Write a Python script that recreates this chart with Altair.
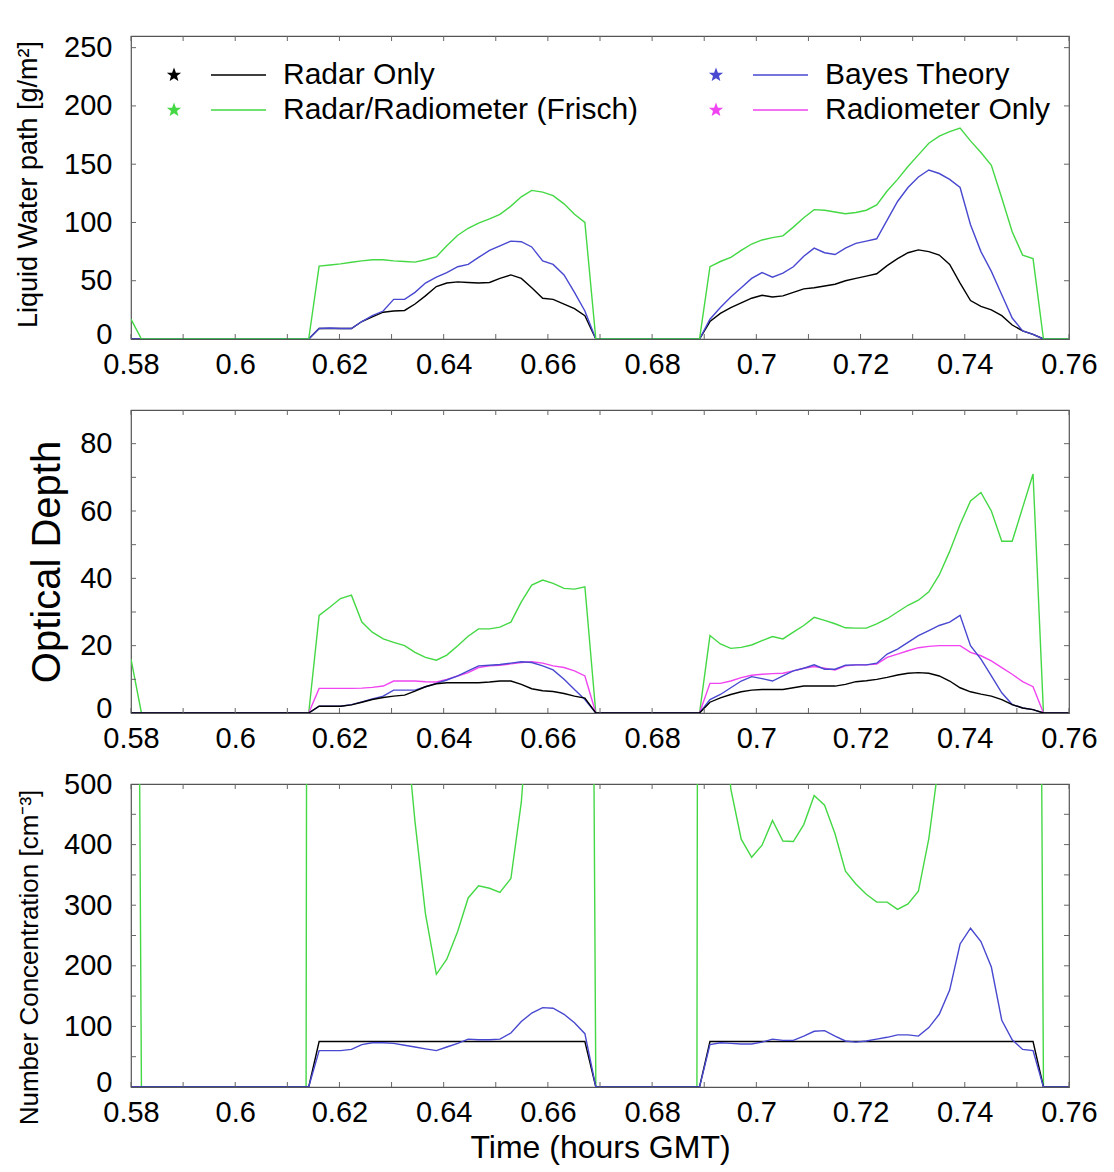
import math
import altair as alt
import pandas as pd

FONT = "Liberation Sans"
# legend is filled column by column: col 1 = Radar Only, Frisch; col 2 = Bayes, Radiometer
SERIES = ["Radar Only", "Radar/Radiometer (Frisch)", "Bayes Theory", "Radiometer Only"]
COLORS = ["#000000", "#44d844", "#4848d0", "#f044f0"]

# sample times (hours GMT)
T_LEAD = [0.5800, 0.5820, 0.6136]
T_SEG1 = [0.6141, 0.6161, 0.6182, 0.6202, 0.6223, 0.6243, 0.6263, 0.6284, 0.6304, 0.6325,
          0.6345, 0.6365, 0.6386, 0.6406, 0.6427, 0.6447, 0.6467, 0.6488, 0.6508, 0.6529,
          0.6549, 0.6569, 0.6590, 0.6610, 0.6631, 0.6651, 0.6671, 0.6692]
T_MID = [0.6886]
T_SEG2 = [0.6891, 0.6911, 0.6931, 0.6951, 0.6971, 0.6991, 0.7011, 0.7031, 0.7051, 0.7071,
          0.7091, 0.7111, 0.7131, 0.7151, 0.7171, 0.7191, 0.7211, 0.7231, 0.7251, 0.7271,
          0.7291, 0.7311, 0.7331, 0.7351, 0.7371, 0.7391, 0.7411, 0.7431, 0.7451, 0.7471,
          0.7491, 0.7511, 0.7531, 0.7551]
T_TAIL = [0.7600]

# ---- Liquid water path [g/m2]
LWP_RADAR_1 = [0, 9, 9, 9, 9, 15, 19, 23, 24, 24.5, 30, 37, 45, 48, 49, 48.5, 48, 48.5, 52, 55,
               52, 44, 35, 34, 30, 26, 20, 0]
LWP_BAYES_1 = [0, 9, 9.5, 9, 9, 15, 20, 24, 34, 34, 40, 48, 53, 57, 62, 64, 70, 76, 80, 84,
               83.5, 79, 67, 64, 55, 40, 24, 0]
LWP_FRISCH_1 = [0, 62.5, 63.5, 64.5, 65.8, 67, 68, 68, 67, 66.5, 66, 68, 70.6, 80, 89, 95, 99.5,
                103, 107, 114, 122, 127.5, 126, 123, 116, 107, 100, 0]
LWP_RADAR_2 = [0, 15, 22, 27, 31, 35, 37.5, 36, 37, 40, 43, 44, 45.5, 47, 50, 52, 54, 56, 63, 69,
               74, 76.5, 75, 72, 64, 48, 33, 28, 25, 20, 12, 7, 4, 0]
LWP_BAYES_2 = [0, 17, 27, 36, 44, 52, 57, 53, 56.5, 62, 71, 78, 74, 72.5, 78, 82, 84, 86, 102, 118,
               130, 139, 145, 142, 137, 130, 98, 75, 58, 38, 18, 7, 4, 0]
LWP_FRISCH_2 = [0, 62, 66.5, 70, 76, 81.5, 85, 87, 88.5, 96, 104, 111, 110.5, 109, 107.5, 108.5,
                110.5, 115, 127, 137, 148, 158, 168, 174, 178, 181, 170, 160, 149, 121, 92, 72, 69, 0]
LWP_FRISCH_LEAD = [17, 0, 0]

# ---- Optical depth
TAU_RADAR_1 = [0, 2, 2, 2, 2.4, 3.2, 4, 4.6, 5, 5.3, 6.5, 7.8, 8.7, 9, 9, 9, 9, 9.2, 9.5, 9.5,
               8.5, 7.2, 6.6, 6.4, 5.8, 5, 4.4, 0]
TAU_BAYES_1 = [0, 2, 2, 2, 2.5, 3.3, 4.2, 5, 6.8, 6.8, 6.8, 7.8, 8.8, 9.8, 11, 12.5, 14, 14.2, 14.4,
               14.8, 15.2, 15, 14, 12.8, 10, 7, 4, 0]
TAU_FRISCH_1 = [0, 29, 31.5, 34, 35, 27, 24, 22, 21, 20, 18, 16.5, 15.7, 17.2, 20, 22.8, 25, 25,
                25.5, 27, 33, 38, 39.5, 38.5, 37, 36.8, 37.5, 0]
TAU_RADIOM_1 = [0, 7.3, 7.3, 7.3, 7.3, 7.4, 7.6, 8, 9.5, 9.5, 9.5, 9.3, 9.2, 10, 11, 12, 13.5, 14,
                14.2, 14.6, 15, 15.2, 14.8, 14, 13.5, 12.5, 11, 0]
TAU_RADAR_2 = [0, 3.2, 4.5, 5.5, 6.3, 6.8, 7, 7, 7, 7.5, 8, 8, 8, 8, 8.5, 9.3, 9.6, 10, 10.6, 11.3,
               11.8, 12, 11.8, 11, 9.5, 7.5, 6.3, 5.6, 5, 4, 2.5, 1.5, 1, 0]
TAU_BAYES_2 = [0, 4, 5.5, 7.5, 9.5, 10.8, 10.2, 9.5, 11, 12.5, 13.3, 14.3, 13, 13, 14.2, 14.3, 14.3,
               14.8, 17.5, 19, 21, 23, 24.5, 26, 27, 29, 20, 16, 11, 6, 2.5, 1.5, 1, 0]
TAU_FRISCH_2 = [0, 23, 20.5, 19.2, 19.5, 20.2, 21.5, 22.7, 22, 24, 26, 28.4, 27.5, 26.5, 25.3, 25.2,
                25.2, 26.5, 28, 30, 32, 33.5, 36, 41, 48, 56, 63, 65.5, 60, 51, 51, 61, 71, 0]
TAU_RADIOM_2 = [0, 8.8, 8.8, 9.5, 10.5, 11.2, 11.5, 11.7, 11.8, 12.5, 13.3, 13.8, 13.3, 12.8, 14,
                14.3, 14.3, 14.5, 16.5, 17.5, 18.5, 19.4, 19.8, 20, 20, 20, 18, 17, 15.5, 13.5,
                11.5, 9.3, 7.8, 0]
TAU_FRISCH_LEAD = [16, 0, 0]

# ---- Number concentration [cm-3] (values above 500 run off the top)
NC_RADAR_1 = [0, 75, 75, 75, 75, 75, 75, 75, 75, 75, 75, 75, 75, 75, 75, 75, 75, 75, 75, 75,
              75, 75, 75, 75, 75, 75, 75, 0]
NC_BAYES_1 = [0, 60, 60, 60, 62, 70, 73, 73, 72, 69, 66, 63, 60, 66, 72, 79, 78, 78, 79, 89,
              108, 122, 131, 130, 120, 106, 88, 0]
NC_FRISCH_1 = [3000, 3000, 3000, 3000, 3000, 3000, 3000, 3000, 3000, 620, 438, 286, 186, 211,
               257, 312, 332, 328, 321, 344, 470, 700, 3000, 3000, 3000, 3000, 3000, 0]
NC_RADAR_2 = [0, 75, 75, 75, 75, 75, 75, 75, 75, 75, 75, 75, 75, 75, 75, 75, 75, 75, 75, 75,
              75, 75, 75, 75, 75, 75, 75, 75, 75, 75, 75, 75, 75, 0]
NC_BAYES_2 = [0, 70, 73, 72, 71, 71, 74, 79, 77, 77, 84, 92, 93, 84, 76, 74, 76, 79, 82, 86, 86,
              84, 98, 120, 160, 236, 262, 240, 198, 110, 78, 62, 60, 0]
NC_FRISCH_2 = [3000, 3000, 700, 492, 409, 379, 399, 440, 406, 405, 433, 481, 465, 418, 356, 335,
               318, 305, 305, 293, 302, 323, 410, 540, 3000, 3000, 3000, 3000, 3000, 3000, 3000,
               3000, 3000, 0]
NC_FRISCH_LEAD = [3000, 0, 0]

X_TICK_MARKS = [0.58, 0.59, 0.60, 0.61, 0.62, 0.63, 0.64, 0.65, 0.66, 0.67, 0.68, 0.69, 0.70,
                0.71, 0.72, 0.73, 0.74, 0.75, 0.76]
X_LABELS = [0.58, 0.60, 0.62, 0.64, 0.66, 0.68, 0.70, 0.72, 0.74, 0.76]
LWP_TICKS = [0, 50, 100, 150, 200, 250]
TAU_TICKS = [0, 20, 40, 60, 80]
TAU_MARKS = [10, 20, 30, 40, 50, 60, 70, 80]
NC_TICKS = [0, 100, 200, 300, 400, 500]
NC_MARKS = [50, 100, 150, 200, 250, 300, 350, 400, 450]

W, H = 938, 303
TIMES = T_LEAD + T_SEG1 + T_MID + T_SEG2 + T_TAIL


def full(seg1, seg2, lead=(0, 0, 0)):
    return list(lead) + seg1 + [0] + seg2 + [0]


def frame(series):
    rows = []
    for name, vals in series:
        for t, v in zip(TIMES, vals):
            rows.append({"t": t, "value": v, "series": name})
    return pd.DataFrame(rows)


def star(cx, ro, ri):
    pts = []
    for i in range(10):
        a = math.radians(-90 + 36 * i)
        r = ro if i % 2 == 0 else ri
        pts.append(f"{cx + r * math.cos(a):.3f},{r * math.sin(a):.3f}")
    return "M" + " L".join(pts) + " Z"


# legend glyph (units of 10 px): a filled-looking star, then a short line sample
STAR_X = -8.8
SYMBOL = " ".join(star(STAR_X, r, 0.42 * r) for r in (0.55, 0.38, 0.22, 0.08))
SYMBOL += " M-5.1,0 L0.4,0"


def panel(df, ydomain, yticks, ymarks, ytitle, ytitle_size, ytitle_x, ytitle_y,
          legend, xtitle):
    xaxis = alt.Axis(values=X_LABELS, format="~g", labelPadding=11, labelFlush=False,
                     labelOverlap=False, title=xtitle, titleFontSize=32, titlePadding=5)
    x_enc = alt.X("t:Q", scale=alt.Scale(domain=[0.58, 0.76], nice=False, zero=False),
                  axis=xaxis)
    yaxis_kw = dict(values=yticks, labelPadding=19, title=ytitle, titleFontSize=ytitle_size,
                    titleX=ytitle_x, titleBaseline="bottom", labelOverlap=False,
                    labelOffset={"condition": {"test": "datum.value === 0", "value": -5},
                                 "value": 0})
    if ytitle_y is not None:
        yaxis_kw["titleY"] = ytitle_y
    y_enc = alt.Y("value:Q", scale=alt.Scale(domain=ydomain, nice=False, zero=True),
                  axis=alt.Axis(**yaxis_kw))

    lines = alt.Chart(df).mark_line(strokeWidth=1.4, clip=True).encode(
        x=x_enc, y=y_enc,
        color=alt.Color("series:N", scale=alt.Scale(domain=SERIES, range=COLORS),
                        legend=legend),
        order=alt.Order("t:Q"),
    )
    xt = pd.DataFrame({"t": X_TICK_MARKS})
    yt = pd.DataFrame({"value": ymarks})
    rule_kw = dict(color="#666666", strokeWidth=1)
    xb = alt.Chart(xt).mark_rule(**rule_kw).encode(x=x_enc, y=alt.value(H), y2=alt.value(H - 5))
    xtop = alt.Chart(xt).mark_rule(**rule_kw).encode(x=x_enc, y=alt.value(0), y2=alt.value(5))
    yl = alt.Chart(yt).mark_rule(**rule_kw).encode(y=y_enc, x=alt.value(0), x2=alt.value(5))
    yr = alt.Chart(yt).mark_rule(**rule_kw).encode(y=y_enc, x=alt.value(W), x2=alt.value(W - 5))
    return alt.layer(lines, xb, xtop, yl, yr).properties(width=W, height=H)


legend_top = alt.Legend(
    title=None, orient="none", legendX=116, legendY=24, columns=2, columnPadding=68,
    rowPadding=5, symbolType=SYMBOL, symbolSize=400, symbolStrokeWidth=1.4,
    labelFont=FONT, labelFontSize=30, labelColor="black", labelOffset=6, labelLimit=0,
    padding=0,
)

df_lwp = frame([
    ("Radar Only", full(LWP_RADAR_1, LWP_RADAR_2)),
    ("Bayes Theory", full(LWP_BAYES_1, LWP_BAYES_2)),
    ("Radar/Radiometer (Frisch)", full(LWP_FRISCH_1, LWP_FRISCH_2, LWP_FRISCH_LEAD)),
])
df_tau = frame([
    ("Radar/Radiometer (Frisch)", full(TAU_FRISCH_1, TAU_FRISCH_2, TAU_FRISCH_LEAD)),
    ("Radiometer Only", full(TAU_RADIOM_1, TAU_RADIOM_2)),
    ("Bayes Theory", full(TAU_BAYES_1, TAU_BAYES_2)),
    ("Radar Only", full(TAU_RADAR_1, TAU_RADAR_2)),
])
df_nc = frame([
    ("Radar/Radiometer (Frisch)", full(NC_FRISCH_1, NC_FRISCH_2, NC_FRISCH_LEAD)),
    ("Radar Only", full(NC_RADAR_1, NC_RADAR_2)),
    ("Bayes Theory", full(NC_BAYES_1, NC_BAYES_2)),
])

p1 = panel(df_lwp, [0, 260], LWP_TICKS, LWP_TICKS[1:], "Liquid Water path [g/m²]", 27, -89, 148,
           legend_top, None)
p2 = panel(df_tau, [0, 90], TAU_TICKS, TAU_MARKS, "Optical Depth", 40, -64, None, None, None)
p3 = panel(df_nc, [0, 500], NC_TICKS, NC_MARKS, "Number Concentration [cm⁻³]", 26, -89, 173,
           None, "Time (hours GMT)")

upper = alt.vconcat(p1, p2, spacing=28).resolve_scale(
    color="independent", x="independent", y="independent"
)
chart = alt.vconcat(upper, p3, spacing=15, background="white").resolve_scale(
    color="independent", x="independent", y="independent"
).properties(
    padding={"left": 5, "top": 25, "right": 0, "bottom": 4}
).configure_axis(
    labelFont=FONT, labelFontSize=29, labelColor="black", titleFont=FONT, titleColor="black",
    titleFontWeight="normal", grid=False, ticks=False, domain=False,
).configure_view(
    stroke="#555555", strokeWidth=1.2
)

chart.save("out.html", embed_options={"renderer": "svg", "actions": False})
